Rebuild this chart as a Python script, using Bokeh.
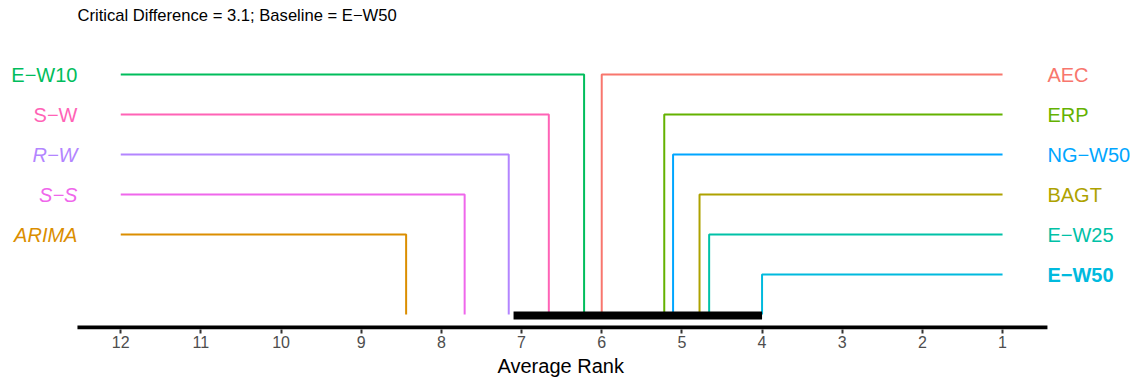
from bokeh.plotting import figure
from bokeh.models import Range1d, FixedTicker, ColumnDataSource, Label, Title
from bokeh.embed import file_html
from bokeh.resources import INLINE
from bokeh.core.properties import value

# ---- data ----
methods = ["AEC", "ARIMA", "BAGT", "E\u2212W10", "E\u2212W25", "E\u2212W50",
           "ERP", "NG\u2212W50", "R\u2212W", "S\u2212S", "S\u2212W"]
avg_rank = [6.00, 8.44, 4.78, 6.22, 4.66, 4.00, 5.22, 5.11, 7.16, 7.71, 6.66]
colors = ["#F8766D", "#DB8E00", "#AEA200", "#00BD5C", "#00C1A7", "#00BADE",
          "#64B200", "#00A6FF", "#B385FF", "#EF67EB", "#FF63B6"]
font_styles = ["normal", "italic", "normal", "normal", "normal", "bold",
               "normal", "normal", "italic", "italic", "normal"]
critical_difference = 3.1
baseline = "E\u2212W50"
tick_values = list(range(1, 13))
x_label = "Average Rank"

FONT = "Liberation Sans"

best = min(avg_rank)
worst_tick = max(tick_values)
best_tick = min(tick_values)

# split methods into left (worse) and right (better) sides
left = sorted([i for i in range(len(methods)) if avg_rank[i] > 6.1], key=lambda i: avg_rank[i])
right = sorted([i for i in range(len(methods)) if avg_rank[i] <= 6.1], key=lambda i: -avg_rank[i])
bottom_row = max(len(left), len(right))

p = figure(width=1136, height=384, output_backend="svg", toolbar_location=None,
           x_range=Range1d(13.50, -0.671), y_range=Range1d(6.375, -1.85),
           min_border_left=0, min_border_right=0, min_border_top=0, min_border_bottom=55)
p.yaxis.visible = False
p.grid.visible = False
p.outline_line_color = None
p.background_fill_color = "white"
p.border_fill_color = "white"

# x axis
ax = p.xaxis[0]
ax.ticker = FixedTicker(ticks=tick_values)
ax.axis_line_alpha = 0
ax.major_tick_in = 0
ax.major_tick_out = 4
ax.major_tick_line_color = "#333333"
ax.major_tick_line_width = 2
ax.minor_tick_line_color = None
ax.major_label_text_font = FONT
ax.major_label_text_font_size = "16px"
ax.major_label_text_color = "#4D4D4D"
ax.major_label_standoff = 2

# axis title, centred under the drawn axis line
p.add_layout(Title(text=x_label, align="left", offset=497, standoff=8,
                   vertical_align="top", text_font=FONT, text_font_size="20px",
                   text_font_style="normal", text_color="black"), "below")

label_left_x = 12.54
label_right_x = 0.44

# thick axis line
p.segment(x0=[label_left_x], y0=[6.325], x1=[label_right_x], y1=[6.325],
          line_color="black", line_width=4)

# connector lines
xs, ys, cs = [], [], []
lx, ly, lt, lc, lf = [], [], [], [], []
for row, i in enumerate(left):
    r = avg_rank[i]
    xs.append([worst_tick, r, r]); ys.append([row, row, bottom_row]); cs.append(colors[i])
    lx.append(label_left_x); ly.append(row); lt.append(methods[i]); lc.append(colors[i]); lf.append(font_styles[i])
for row, i in enumerate(right):
    r = avg_rank[i]
    xs.append([best_tick, r, r]); ys.append([row, row, bottom_row]); cs.append(colors[i])
p.multi_line(xs=xs, ys=ys, line_color=cs, line_width=2)

left_src = ColumnDataSource(dict(x=lx, y=ly, text=lt, color=lc, style=lf))
p.text(x="x", y="y", text="text", source=left_src, text_color="color",
       text_font_style="style", text_font=value(FONT), text_font_size="20px",
       text_align="right", text_baseline="middle")

rx, ry, rt, rc, rf = [], [], [], [], []
for row, i in enumerate(right):
    rx.append(label_right_x); ry.append(row); rt.append(methods[i]); rc.append(colors[i]); rf.append(font_styles[i])
right_src = ColumnDataSource(dict(x=rx, y=ry, text=rt, color=rc, style=rf))
p.text(x="x", y="y", text="text", source=right_src, text_color="color",
       text_font_style="style", text_font=value(FONT), text_font_size="20px",
       text_align="left", text_baseline="middle")

# critical difference bar
p.segment(x0=[best], y0=[bottom_row + 0.025], x1=[best + critical_difference], y1=[bottom_row + 0.025],
          line_color="black", line_width=8, line_cap="butt")

# title
p.add_layout(Label(x=label_left_x, y=-1.475,
                   text="Critical Difference = %s; Baseline = %s" % (critical_difference, baseline),
                   text_font=FONT, text_font_size="16.6px", text_color="black",
                   text_align="left", text_baseline="middle"))

open("out.html", "w").write(file_html(p, INLINE))
